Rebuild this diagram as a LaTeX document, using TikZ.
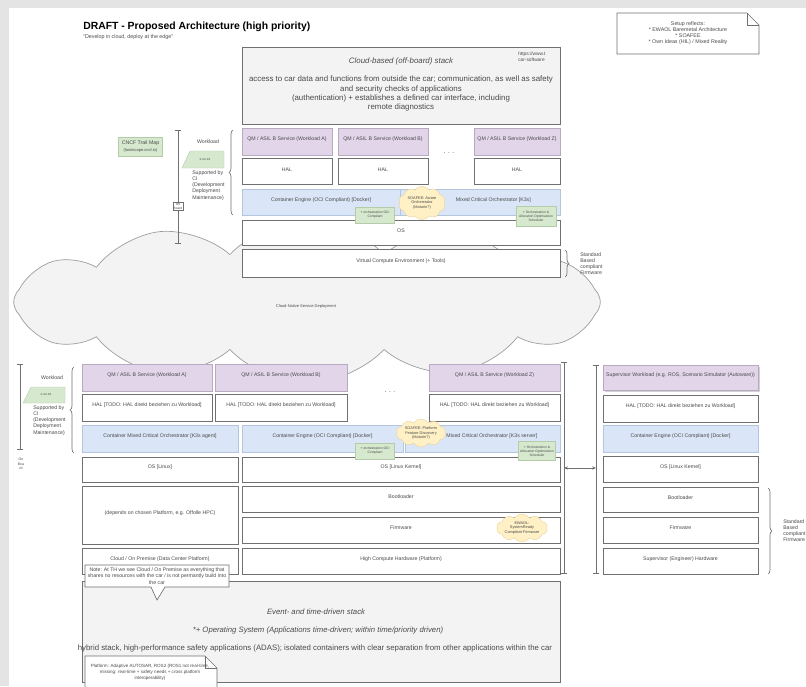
\documentclass[tikz,border=0pt]{standalone}
\usepackage{fontspec}
\setmainfont{Liberation Sans}
\usetikzlibrary{shapes.symbols,fit,decorations.pathreplacing,arrows.meta,shadows}
\definecolor{bord}{HTML}{707070}
\definecolor{txt}{HTML}{4A4A4A}
\definecolor{purp}{HTML}{E2D5EA}
\definecolor{purpb}{HTML}{B8A8C0}
\definecolor{blu}{HTML}{DAE6F7}
\definecolor{blub}{HTML}{B4C6DE}
\definecolor{grn}{HTML}{D6E9CF}
\definecolor{grnb}{HTML}{B2CDA8}
\definecolor{ylw}{HTML}{FFF0C6}
\definecolor{ylwb}{HTML}{E8D39A}
\definecolor{gryf}{HTML}{F3F3F3}
\definecolor{framec}{HTML}{E4E4E4}
\begin{document}
\begin{tikzpicture}[x=0.75pt,y=-0.75pt,
  fs/.style={font=\fontsize{3.9}{4.7}\selectfont},
  ft/.style={font=\fontsize{3}{3.7}\selectfont},
  fm/.style={font=\fontsize{5.9}{6.9}\selectfont},
  bx/.style={draw=bord,line width=0.5pt,fill=white,inner sep=0pt,text=txt,fs,align=center},
  wl/.style={bx,fill=purp,draw=purpb,drop shadow={shadow xshift=0.7pt,shadow yshift=-0.7pt,opacity=0.25}},
  bl/.style={bx,fill=blu,draw=blub},
  gbox/.style={bx,fill=gryf},
  gnote/.style={fill=grn,draw=grnb,line width=0.3pt,inner sep=0.8pt,text=txt,align=center,font=\fontsize{2.5}{3.1}\selectfont,drop shadow={shadow xshift=0.5pt,shadow yshift=-0.5pt,opacity=0.25}},
  ycloud/.style={cloud,cloud puffs=10,cloud puff arc=110,fill=ylw,draw=ylwb,line width=0.3pt,inner sep=0pt},
  ytext/.style={text=txt,align=center,inner sep=0pt,font=\fontsize{2.9}{3.4}\selectfont},
  brc/.style={draw=bord,line width=0.5pt,decorate,decoration={brace,amplitude=3pt}},
  vbar/.style={draw=bord,line width=0.5pt,{Bar[width=5pt]}-{Bar[width=5pt]}},
  plain/.style={text=txt,inner sep=0pt,align=left},
]
\useasboundingbox (0,0) rectangle (806,686);
\fill[framec] (0,0) rectangle (806,686);
\fill[white] (9,8) rectangle (806,686);

% title
\node[anchor=south west,inner sep=0pt,font=\fontsize{7.8}{9}\selectfont\bfseries] (title) at (83,32) {DRAFT - Proposed Architecture (high priority)};
\node[anchor=north west,inner sep=0pt,font=\fontsize{4}{4.6}\selectfont,text=txt] (subtitle) at (83,34.5) {"Develop in cloud, deploy at the edge"};

% top right note
\draw[bord,line width=0.5pt,fill=white] (617,13) -- (747,13) -- (759,25) -- (759,54) -- (617,54) -- cycle;
\draw[bord,line width=0.5pt] (747,13) -- (747,25) -- (759,25);
\node[text=txt,align=center,inner sep=0pt,font=\fontsize{4}{4.6}\selectfont] (setup) at (688,33) {Setup reflects:\\* EWAOL Baremetal Architecture\\* SOAFEE\\* Own Ideas (HIL) / Mixed Reality};

% big cloud
\node[cloud,cloud puffs=12,cloud puff arc=95,aspect=3.6,draw=bord!70,line width=0.5pt,fill=gryf,minimum width=440pt,minimum height=122pt,inner sep=0pt] (cnd) at (307,302) {};
\node[ft,text=txt,inner sep=0pt] (cndl) at (306,306) {Cloud-Native Service Deployment};

% upper cloud stack
\node[gbox,fit={(242,47)(560,124)}] (cstack) {};
\node[text=txt,font=\fontsize{5.9}{6.9}\selectfont\itshape,inner sep=0pt] (cst) at (401,61) {Cloud-based (off-board) stack};
\node[fm,text=txt,align=center,inner sep=0pt,anchor=north] (csb) at (401,76) {access to car data and functions from outside the car; communication, as well as safety\\and security checks of applications\\(authentication) + establishes a defined car interface, including\\remote diagnostics};
\node[text=txt,align=left,inner sep=0pt,anchor=north west,font=\fontsize{3.6}{4.3}\selectfont] (url) at (518,52) {https://www.t\\car-software};

\node[wl,fit={(242,128)(332,155)}] (qa) {QM / ASIL B Service (Workload A)};
\node[wl,fit={(338,128)(428,155)}] (qb) {QM / ASIL B Service (Workload B)};
\node[wl,fit={(474,128)(560,155)}] (qz) {QM / ASIL B Service (Workload Z)};
\node[bx,fit={(242,158)(332,184)}] (ha) {HAL};
\node[bx,fit={(338,158)(428,184)}] (hb) {HAL};
\node[bx,fit={(474,158)(560,184)}] (hz) {HAL};
\node[text=txt,inner sep=0pt,font=\fontsize{5}{6}\selectfont] (dots1) at (449,153) {. . .};
\node[bl,fit={(242,189)(400,215)}] (ce) {Container Engine (OCI Compliant) [Docker]};
\node[bl,fit={(400,189)(560,215)}] (ko) {\hspace*{20pt}Mixed Critical Orchestrator [K3s]};
\node[bx,fit={(242,220)(560,245)}] (os) {OS};
\node[bx,fit={(242,249)(560,277)}] (vce) {Virtual Compute Environment (+ Tools)};
\node[ycloud,minimum width=35pt,minimum height=25pt] (soa1) at (422,203) {};
\node[ytext] (soa1t) at (422,203) {SOAFEE: Aware\\Orchestrator\\(Maturin?)};
\node[gnote,minimum width=29pt,minimum height=12pt] (gn1) at (375,215) {+ orchestration OCI\\Compliant};
\node[gnote,minimum width=30pt,minimum height=15pt] (gn2) at (536,216) {+ Orchestration \&\\Allocation Optimization\\Scheduler};
\draw[brc] (565,250) -- (565,277);
\node[plain,fs,anchor=north west] (sbf1) at (580,252) {Standard\\Based\\compliant\\Firmware};

% upper left annotations
\node[fill=grn,draw=grnb,line width=0.3pt,text=txt,align=center,inner sep=0pt,minimum width=33pt,minimum height=14pt,font=\fontsize{3.9}{4.6}\selectfont] (cncf) at (140.5,146.5) {CNCF Trail Map\\{\fontsize{3}{3.8}\selectfont(landscape.cncf.io)}};
\coordinate (ut) at (178,130);
\coordinate (ub) at (178,244);
\draw[vbar] (ut) -- (ub);
\node[fill=white,draw=bord,line width=0.3pt,inner sep=0.6pt,text=txt,font=\fontsize{2.4}{3}\selectfont,align=center] (offb) at (178,206) {Off\\Board};
\node[plain,fs] (wlu) at (208,142) {Workload};
\draw[fill=grn,draw=grnb,line width=0.3pt] (190,151) -- (224,151) -- (224,168) -- (182,168) -- cycle;
\node[text=txt,inner sep=0pt,font=\fontsize{2.6}{3}\selectfont] (ver1) at (205,159.5) {x.xx.xx};
\node[plain,fs,anchor=north west] (sup1) at (192,170) {Supported by\\CI\\(Development\\Deployment\\Maintenance)};
\draw[brc] (233,215) -- (233,130);

% ---------------- lower stacks
\node[wl,fit={(82,364)(212,391)}] (qa2) {QM / ASIL B Service (Workload A)};
\node[wl,fit={(215,364)(347,391)}] (qb2) {QM / ASIL B Service (Workload B)};
\node[wl,fit={(429,364)(560,391)}] (qz2) {QM / ASIL B Service (Workload Z)};
\node[bx,fit={(82,394)(212,421)}] (ha2) {HAL [TODO: HAL direkt beziehen zu Workload]};
\node[bx,fit={(215,394)(347,421)}] (hb2) {HAL [TODO: HAL direkt beziehen zu Workload]};
\node[bx,fit={(429,394)(560,421)}] (hz2) {HAL [TODO: HAL direkt beziehen zu Workload]};
\node[text=txt,inner sep=0pt,font=\fontsize{5}{6}\selectfont] (dots2) at (390,392) {. . .};
\node[bl,fit={(82,425)(238,452)}] (ca) {Container Mixed Critical Orchestrator [K3s agent]};
\node[bl,fit={(242,425)(403,452)}] (ce2) {Container Engine (OCI Compliant) [Docker]};
\node[bl,fit={(405,425)(560,452)}] (ko2) {\hspace*{14pt}Mixed Critical Orchestrator [K3s server]};
\node[bx,fit={(82,457)(238,482)}] (osl) {OS [Linux]};
\node[bx,fit={(242,457)(560,482)}] (osk) {OS [Linux Kernel]};
\node[bx,fit={(82,486)(238,544)}] (dep) {(depends on chosen Platform, e.g. Offolle HPC)};
\node[bx,fit={(242,486)(560,512)}] (boot) {Bootloader};
\node[bx,fit={(242,517)(560,543)}] (fw) {Firmware};
\node[bx,fit={(82,548)(238,574)}] (cop) {Cloud / On Premise (Data Center Platform)};
\node[bx,fit={(242,548)(560,574)}] (hw) {High Compute Hardware (Platform)};
\node[ycloud,minimum width=37pt,minimum height=21pt] (soa2) at (421,433) {};
\node[ytext] (soa2t) at (421,433) {SOAFEE: Platform\\Feature Discovery\\(Maturin?)};
\node[gnote,minimum width=29pt,minimum height=12pt] (gn3) at (375,451) {+ orchestration OCI\\Compliant};
\node[gnote,minimum width=28pt,minimum height=14pt] (gn4) at (537,451) {+ Orchestration \&\\Allocation Optimization\\Scheduler};
\node[ycloud,minimum width=38pt,minimum height=21pt] (ewa) at (522,528) {};
\node[ytext] (ewat) at (522,528) {EWAOL:\\SystemReady\\Compliant Firmware};

% lower left annotations
\coordinate (lt) at (20,364);
\coordinate (lb) at (20,450);
\draw[vbar] (lt) -- (lb);
\node[text=txt,inner sep=0pt,font=\fontsize{2.6}{3.2}\selectfont,align=center] (onb) at (21,464) {On\\Boa\\rd};
\node[plain,fs] (wll) at (52,378) {Workload};
\draw[fill=grn,draw=grnb,line width=0.3pt] (31,387) -- (65,387) -- (65,403) -- (23,403) -- cycle;
\node[text=txt,inner sep=0pt,font=\fontsize{2.6}{3}\selectfont] (ver2) at (46,395) {x.xx.xx};
\node[plain,fs,anchor=north west] (sup2) at (33,405) {Supported by\\CI\\(Development\\Deployment\\Maintenance)};
\draw[brc] (74,453) -- (74,367);

% connector between stacks
\coordinate (m1t) at (564,362);
\coordinate (m1b) at (564,574);
\coordinate (m2t) at (596,365);
\coordinate (m2b) at (596,574);
\draw[vbar] (m1t) -- (m1b);
\draw[vbar] (m2t) -- (m2b);
\coordinate (al) at (564,468);
\coordinate (ar) at (596,468);
\draw[bord,line width=0.5pt,{Stealth[length=3pt,width=2.5pt]}-{Stealth[length=3pt,width=2.5pt]}] (al) -- (ar);

% supervisor stack
\node[wl,fit={(603,365)(758,390)},drop shadow={shadow xshift=1.5pt,shadow yshift=-1.5pt,opacity=0.35}] (sw) {Supervisor Workload (e.g. ROS, Scenario Simulator (Autoware))};
\node[bx,fit={(603,395)(758,422)}] (sh) {HAL [TODO: HAL direkt beziehen zu Workload]};
\node[bl,fit={(603,425)(758,452)}] (sc) {Container Engine (OCI Compliant) [Docker]};
\node[bx,fit={(603,456)(758,482)}] (so) {OS [Linux Kernel]};
\node[bx,fit={(603,487)(758,512)}] (sb) {Bootloader};
\node[bx,fit={(603,517)(758,543)}] (sf) {Firmware};
\node[bx,fit={(603,548)(758,574)}] (shw) {Supervisor (Engineer) Hardware};
\draw[brc] (768,488) -- (768,574);
\node[plain,fs,anchor=north west] (sbf2) at (783,519) {Standard\\Based\\compliant\\Firmware};

% bottom event stack
\node[gbox,fit={(82,581)(560,682)}] (evs) {};
\node[text=txt,inner sep=0pt,font=\fontsize{5.8}{6.5}\selectfont\itshape] (ev1) at (316,612) {Event- and time-driven stack};
\node[text=txt,inner sep=0pt,font=\fontsize{5.8}{6.5}\selectfont\itshape] (ev2) at (318,630) {*+ Operating System (Applications time-driven; within time/priority driven)};
\node[text=txt,inner sep=0pt,font=\fontsize{5.85}{6.5}\selectfont] (ev3) at (315,648) {hybrid stack, high-performance safety applications (ADAS); isolated containers with clear separation from other applications within the car};

% speech bubble note
\draw[bord,line width=0.5pt,fill=white] (85,565) -- (229,565) -- (229,587) -- (165,587) -- (157,600) -- (151,587) -- (85,587) -- cycle;
\node[text=txt,inner sep=0pt,align=center,font=\fontsize{3.9}{4.8}\selectfont] (note1) at (157,576) {Note: At TH we see Cloud / On Premise as everything that\\shares no resources with the car / is not permantly build into\\the car};

% platform note
\draw[bord,line width=0.5pt,fill=white] (85,656) -- (205,656) -- (217,668) -- (217,690) -- (85,690) -- cycle;
\draw[bord,line width=0.5pt] (205,656) -- (205,668) -- (217,668);
\node[text=txt,inner sep=0pt,align=center,font=\fontsize{3.4}{4.4}\selectfont] (note2) at (150,672) {Platform: Adaptive AUTOSAR, ROS2 (ROS1 not real-time,\\missing: real-time + safety needs + cross platform\\interoperability)};
\end{tikzpicture}
\end{document}
